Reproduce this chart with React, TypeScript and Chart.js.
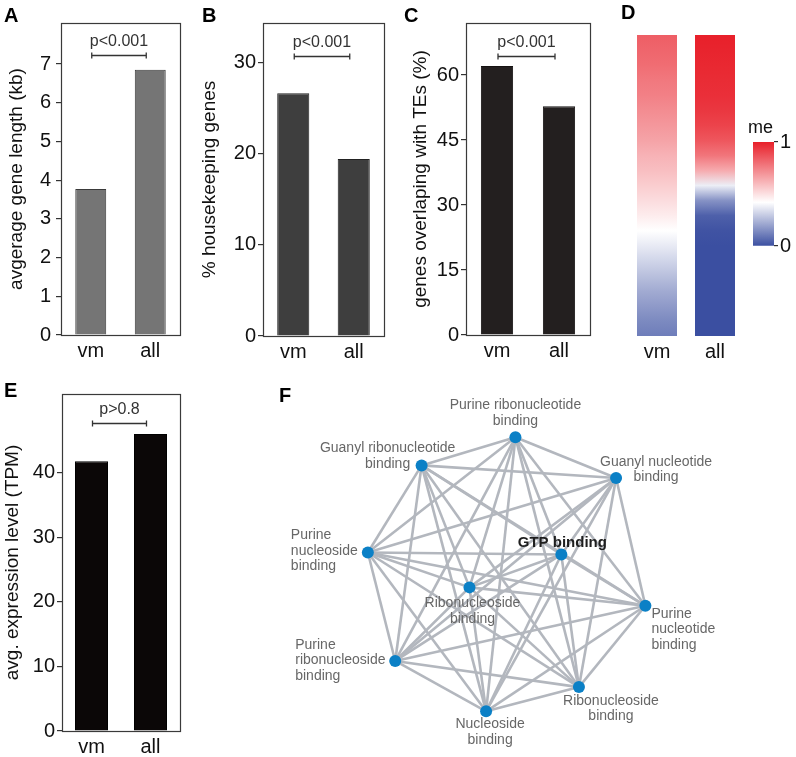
import React, { useEffect, useRef } from "react";
import { Chart, registerables } from "chart.js";

Chart.register(...registerables);

const FONT = "'Liberation Sans', Arial, Helvetica, sans-serif";

// ---------- data ----------
const groups = ["vm", "all"];

const geneLength = [3.77, 6.85];
const geneLengthTicks = [0, 1, 2, 3, 4, 5, 6, 7];
const geneLengthP = "p<0.001";

const housekeeping = [26.6, 19.4];
const housekeepingTicks = [0, 10, 20, 30];
const housekeepingP = "p<0.001";

const teOverlap = [62.1, 52.8];
const teOverlapTicks = [0, 15, 30, 45, 60];
const teOverlapP = "p<0.001";

const expression = [41.8, 46.0];
const expressionTicks = [0, 10, 20, 30, 40];
const expressionP = "p>0.8";

// methylation level along the gene body (top -> bottom), 21 bins
const vmMe = [0.84, 0.82, 0.8, 0.77, 0.75, 0.72, 0.69, 0.66, 0.62, 0.59, 0.55, 0.51, 0.47, 0.42, 0.37, 0.32, 0.27, 0.22, 0.18, 0.14, 0.11];
const allMe = [1.0, 0.99, 0.98, 0.97, 0.96, 0.94, 0.91, 0.86, 0.78, 0.64, 0.38, 0.16, 0.04, 0.01, 0, 0, 0, 0, 0, 0, 0];
const meTicks = [0, 1];
const meTitle = "me";

// network (layout coordinates)
const nodeLabels = [
  ["Purine ribonucleotide", "binding"],
  ["Guanyl ribonucleotide", "binding"],
  ["Guanyl nucleotide", "binding"],
  ["Purine", "nucleoside", "binding"],
  ["GTP binding"],
  ["Ribonucleoside", "binding"],
  ["Purine", "nucleotide", "binding"],
  ["Purine", "ribonucleoside", "binding"],
  ["Ribonucleoside", "binding"],
  ["Nucleoside", "binding"],
];
const nodeX = [515, 419, 618, 364, 562, 468, 648, 392, 580, 485];
const nodeY = [433, 462, 475, 552, 554, 588, 607, 664, 691, 716];
const edges = [
  [0, 1], [0, 2], [0, 3], [0, 4], [0, 5], [0, 6], [0, 7], [0, 8], [0, 9],
  [1, 2], [1, 3], [1, 4], [1, 5], [1, 6], [1, 7], [1, 8], [1, 9],
  [2, 3], [2, 4], [2, 5], [2, 6], [2, 7], [2, 8], [2, 9],
  [3, 4], [3, 5], [3, 6], [3, 7], [3, 8], [3, 9],
  [4, 5], [4, 6], [4, 7], [4, 8], [4, 9],
  [5, 6], [5, 7], [5, 8], [5, 9],
  [6, 7], [6, 8], [6, 9],
  [7, 8], [7, 9],
  [8, 9],
];

// ---------- styles / layout ----------
const labelLayout = [
  { dx: 0, dy: -32, align: "center" },
  { dx: -34, dy: -17, align: "center" },
  { dx: 40, dy: -16, align: "center" },
  { dx: -77, dy: -17, align: "left" },
  { dx: 1, dy: -12, align: "center", bold: true },
  { dx: 3, dy: 16, align: "center" },
  { dx: 6, dy: 8, align: "left" },
  { dx: -100, dy: -16, align: "left" },
  { dx: 32, dy: 14, align: "center" },
  { dx: 4, dy: 13, align: "center" },
];

const cmapStops: [number, number[]][] = [
  [0, [59, 79, 161]],
  [0.42, [255, 255, 255]],
  [1, [232, 32, 42]],
];
function cmap(v: number) {
  for (let i = 0; i < cmapStops.length - 1; i++) {
    const [v0, c0] = cmapStops[i];
    const [v1, c1] = cmapStops[i + 1];
    if (v <= v1 || i === cmapStops.length - 2) {
      const t = Math.max(0, Math.min(1, (v - v0) / (v1 - v0)));
      const c = c0.map((a, k) => Math.round(a + (c1[k] - a) * t));
      return `rgb(${c[0]},${c[1]},${c[2]})`;
    }
  }
  return "white";
}

function verticalGradient(chart: any, stops: [number, string][]) {
  const y = chart.scales && chart.scales.y;
  if (!y) return "#fff";
  const y0 = y.getPixelForValue(1);
  const y1 = y.getPixelForValue(0);
  if (!isFinite(y0) || !isFinite(y1) || y0 === y1) return "#fff";
  const g = chart.ctx.createLinearGradient(0, y0, 0, y1);
  stops.forEach(([o, c]) => g.addColorStop(o, c));
  return g;
}

type BarPanelProps = {
  cx: number; cy: number; cw: number; ch: number;
  box: { l: number; t: number; r: number; b: number };
  values: number[]; ticks: number[]; yMax: number;
  color: string; border: string; barPct: number;
  title: string; titleCenter: number; tickPad: number;
  bracket: number; pText: string;
};

function BarPanel(p: BarPanelProps) {
  const ref = useRef<HTMLCanvasElement>(null);
  useEffect(() => {
    const boxPlugin = {
      id: "box",
      afterDatasetsDraw(chart: any) {
        const { ctx, chartArea: a } = chart;
        ctx.save();
        ctx.strokeStyle = "#3a3a3a";
        ctx.lineWidth = 1.2;
        ctx.strokeRect(Math.round(a.left) + 0.5, Math.round(a.top) + 0.5, Math.round(a.right - a.left), Math.round(a.bottom - a.top));
        ctx.restore();
      },
    };
    const bracketPlugin = {
      id: "bracket",
      afterDatasetsDraw(chart: any) {
        const { ctx, scales } = chart;
        const y = Math.round(scales.y.getPixelForValue(p.bracket)) + 0.5;
        const x0 = scales.x.getPixelForValue(0) + 1;
        const x1 = scales.x.getPixelForValue(1) - 4;
        ctx.save();
        ctx.strokeStyle = "#333";
        ctx.lineWidth = 1.3;
        ctx.beginPath();
        ctx.moveTo(x0, y); ctx.lineTo(x1, y);
        ctx.moveTo(x0, y - 3); ctx.lineTo(x0, y + 3);
        ctx.moveTo(x1, y - 3); ctx.lineTo(x1, y + 3);
        ctx.stroke();
        ctx.fillStyle = "#333";
        ctx.font = `16px ${FONT}`;
        ctx.textAlign = "center";
        ctx.textBaseline = "middle";
        ctx.fillText(p.pText, (x0 + x1) / 2, y - 14);
        ctx.restore();
      },
    };
    const lineH = 19 * 1.2;
    const chart = new Chart(ref.current!, {
      type: "bar",
      data: {
        labels: groups,
        datasets: [{
          data: p.values,
          backgroundColor: p.color,
          borderColor: p.border,
          borderWidth: 1,
          barPercentage: p.barPct,
          categoryPercentage: 1,
        }],
      },
      options: {
        animation: false,
        responsive: false,
        maintainAspectRatio: false,
        events: [],
        layout: { padding: { top: p.box.t - p.cy, right: p.cx + p.cw - p.box.r, bottom: 0, left: 0 } },
        plugins: { legend: { display: false }, tooltip: { enabled: false } },
        scales: {
          x: {
            grid: { display: false, drawTicks: false },
            border: { display: false },
            ticks: { color: "#111", font: { family: FONT, size: 20 }, padding: 4 },
            afterFit: (s: any) => { s.height = p.cy + p.ch - p.box.b; },
          },
          y: {
            min: 0,
            max: p.yMax,
            grid: { display: true, drawOnChartArea: false, drawTicks: true, tickLength: 5, color: "#333", lineWidth: 1.2 },
            border: { display: false },
            ticks: { color: "#111", font: { family: FONT, size: 20 }, padding: p.tickPad },
            afterBuildTicks: (s: any) => { s.ticks = p.ticks.map((v) => ({ value: v })); },
            afterFit: (s: any) => { s.width = p.box.l - p.cx; },
            title: {
              display: true,
              text: p.title,
              color: "#111",
              font: { family: FONT, size: 19 },
              padding: { top: p.titleCenter - p.cx - lineH / 2, bottom: 0 },
            },
          },
        },
      },
      plugins: [boxPlugin, bracketPlugin],
    } as any);
    return () => chart.destroy();
  }, []);
  return (
    <canvas ref={ref} width={p.cw} height={p.ch}
      style={{ position: "absolute", left: p.cx, top: p.cy, width: p.cw, height: p.ch }} />
  );
}

function HeatPanel() {
  const ref = useRef<HTMLCanvasElement>(null);
  const cx = 600, cy = 0, cw = 145, ch = 370;
  useEffect(() => {
    const cols = [vmMe, allMe];
    const chart = new Chart(ref.current!, {
      type: "bar",
      data: {
        labels: groups,
        datasets: [{
          data: [1, 1],
          borderWidth: 0,
          barPercentage: 40 / 58,
          categoryPercentage: 1,
          backgroundColor: (c: any) => {
            const vals = cols[c.dataIndex];
            if (!vals) return "#fff";
            return verticalGradient(c.chart, vals.map((v, i) => [i / (vals.length - 1), cmap(v)] as [number, string]));
          },
        }],
      },
      options: {
        animation: false,
        responsive: false,
        maintainAspectRatio: false,
        events: [],
        layout: { padding: { top: 35 - cy, left: 628 - cx, right: cx + cw - 744, bottom: 0 } },
        plugins: { legend: { display: false }, tooltip: { enabled: false } },
        scales: {
          x: {
            grid: { display: false, drawTicks: false },
            border: { display: false },
            ticks: { color: "#111", font: { family: FONT, size: 20 }, padding: 4 },
            afterFit: (s: any) => { s.height = cy + ch - 336; },
          },
          y: { display: false, min: 0, max: 1 },
        },
      },
    } as any);
    return () => chart.destroy();
  }, []);
  return <canvas ref={ref} width={cw} height={ch} style={{ position: "absolute", left: cx, top: cy, width: cw, height: ch }} />;
}

function ColorBar() {
  const ref = useRef<HTMLCanvasElement>(null);
  const cx = 745, cy = 100, cw = 51, ch = 160;
  useEffect(() => {
    const titlePlugin = {
      id: "metitle",
      afterDraw(chart: any) {
        const { ctx, chartArea: a } = chart;
        ctx.save();
        ctx.fillStyle = "#111";
        ctx.font = `18px ${FONT}`;
        ctx.textAlign = "center";
        ctx.textBaseline = "alphabetic";
        ctx.fillText(meTitle, (a.left + a.right) / 2 - 3, a.top - 9);
        ctx.restore();
      },
    };
    const chart = new Chart(ref.current!, {
      type: "bar",
      data: {
        labels: [""],
        datasets: [{
          data: [1],
          borderWidth: 0,
          barPercentage: 1,
          categoryPercentage: 1,
          backgroundColor: (c: any) =>
            verticalGradient(c.chart, cmapStops.map(([v]) => [1 - v, cmap(v)] as [number, string]).reverse()),
        }],
      },
      options: {
        animation: false,
        responsive: false,
        maintainAspectRatio: false,
        events: [],
        layout: { padding: { top: 142 - cy, left: 753 - cx, right: 0, bottom: cy + ch - 249 } },
        plugins: { legend: { display: false }, tooltip: { enabled: false } },
        scales: {
          x: { display: false },
          y: {
            position: "right",
            min: 0,
            max: 1,
            grid: { display: true, drawOnChartArea: false, drawTicks: true, tickLength: 4, color: "#333", lineWidth: 1.2 },
            border: { display: false },
            ticks: { color: "#111", font: { family: FONT, size: 20 }, padding: 2 },
            afterBuildTicks: (s: any) => { s.ticks = meTicks.map((v) => ({ value: v })); },
            afterFit: (s: any) => { s.width = cx + cw - 774; },
          },
        },
      },
      plugins: [titlePlugin],
    } as any);
    return () => chart.destroy();
  }, []);
  return <canvas ref={ref} width={cw} height={ch} style={{ position: "absolute", left: cx, top: cy, width: cw, height: ch }} />;
}

function NetworkPanel() {
  const ref = useRef<HTMLCanvasElement>(null);
  const cx = 270, cy = 380, cw = 526, ch = 377;
  useEffect(() => {
    const labelPlugin = {
      id: "nodeLabels",
      afterDatasetsDraw(chart: any) {
        const { ctx, scales } = chart;
        ctx.save();
        ctx.textBaseline = "middle";
        nodeLabels.forEach((lines, i) => {
          const L = labelLayout[i];
          const px = scales.x.getPixelForValue(nodeX[i]);
          const py = scales.y.getPixelForValue(nodeY[i]);
          ctx.font = L.bold ? `bold 15px ${FONT}` : `14px ${FONT}`;
          ctx.fillStyle = L.bold ? "#1e1e1e" : "#676767";
          ctx.textAlign = L.align;
          lines.forEach((t, k) => ctx.fillText(t, px + L.dx, py + L.dy + k * 15.5));
        });
        ctx.restore();
      },
    };
    const pts = nodeX.map((x, i) => ({ x, y: nodeY[i] }));
    const chart = new Chart(ref.current!, {
      type: "scatter",
      data: {
        datasets: [
          {
            data: pts,
            pointRadius: 6,
            pointBackgroundColor: "#0b80c6",
            pointBorderWidth: 0,
            order: 0,
          },
          ...edges.map(([a, b]) => ({
            data: [pts[a], pts[b]],
            showLine: true,
            borderColor: "#b3b7be",
            borderWidth: 2.6,
            pointRadius: 0,
            order: 1,
          })),
        ],
      },
      options: {
        animation: false,
        responsive: false,
        maintainAspectRatio: false,
        events: [],
        layout: { padding: 0 },
        plugins: { legend: { display: false }, tooltip: { enabled: false } },
        scales: {
          x: { type: "linear", display: false, min: cx, max: cx + cw },
          y: { type: "linear", display: false, min: cy, max: cy + ch, reverse: true },
        },
      },
      plugins: [labelPlugin],
    } as any);
    return () => chart.destroy();
  }, []);
  return <canvas ref={ref} width={cw} height={ch} style={{ position: "absolute", left: cx, top: cy, width: cw, height: ch }} />;
}

const letterStyle: React.CSSProperties = {
  position: "absolute",
  fontFamily: FONT,
  fontWeight: "bold",
  fontSize: 20,
  lineHeight: "20px",
  color: "#000",
};

export default function App() {
  return (
    <div style={{ position: "absolute", left: 0, top: 0, width: 796, height: 757, background: "#fff", overflow: "hidden" }}>
      <BarPanel cx={0} cy={0} cw={190} ch={370} box={{ l: 61, t: 23, r: 180, b: 335 }}
        values={geneLength} ticks={geneLengthTicks} yMax={8.06} color="#757575" border="#3a3a3a" barPct={0.52}
        title="avgerage gene length (kb)" titleCenter={17} tickPad={5} bracket={7.23} pText={geneLengthP} />
      <BarPanel cx={190} cy={0} cw={200} ch={370} box={{ l: 263, t: 23, r: 384, b: 336 }}
        values={housekeeping} ticks={housekeepingTicks} yMax={34.3} color="#3e3e3e" border="#222" barPct={0.53}
        title="% housekeeping genes" titleCenter={210} tickPad={2} bracket={30.7} pText={housekeepingP} />
      <BarPanel cx={390} cy={0} cw={205} ch={370} box={{ l: 466, t: 23, r: 590, b: 335 }}
        values={teOverlap} ticks={teOverlapTicks} yMax={72} color="#231f1f" border="#151212" barPct={0.52}
        title="genes overlaping with TEs (%)" titleCenter={421} tickPad={2} bracket={64.4} pText={teOverlapP} />
      <HeatPanel />
      <ColorBar />
      <BarPanel cx={0} cy={380} cw={200} ch={377} box={{ l: 62, t: 392, r: 180, b: 731 }}
        values={expression} ticks={expressionTicks} yMax={52.2} color="#0b0707" border="#000" barPct={0.56}
        title="avg. expression level (TPM)" titleCenter={13} tickPad={2} bracket={47.7} pText={expressionP} />
      <NetworkPanel />
      <div style={{ ...letterStyle, left: 4, top: 5 }}>A</div>
      <div style={{ ...letterStyle, left: 202, top: 5 }}>B</div>
      <div style={{ ...letterStyle, left: 404, top: 5 }}>C</div>
      <div style={{ ...letterStyle, left: 621, top: 2 }}>D</div>
      <div style={{ ...letterStyle, left: 4, top: 380 }}>E</div>
      <div style={{ ...letterStyle, left: 279, top: 385 }}>F</div>
    </div>
  );
}
